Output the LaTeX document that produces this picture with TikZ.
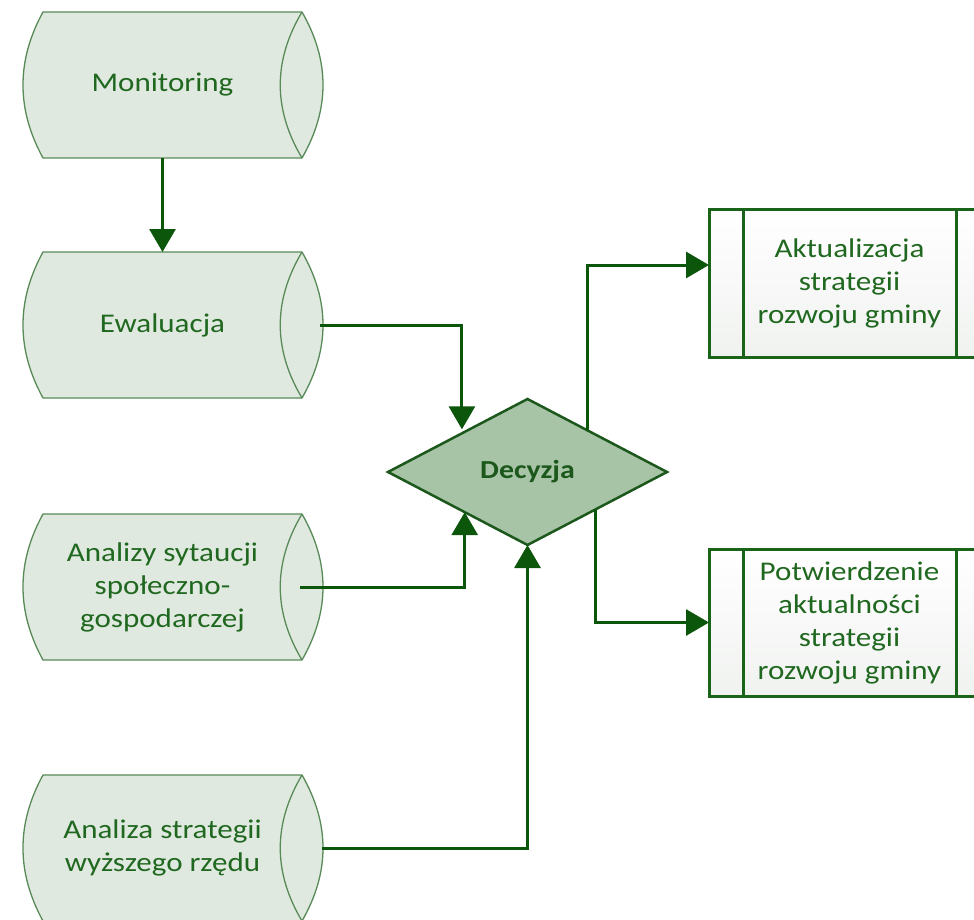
\documentclass[tikz,border=0pt]{standalone}
\usepackage{fontspec}
\setmainfont[FakeStretch=1.15]{Carlito}
\usetikzlibrary{arrows.meta,calc,shapes.geometric}
\pgfdeclarelayer{background}
\pgfsetlayers{background,main}
\definecolor{cylfill}{RGB}{224,233,223}
\definecolor{cylline}{RGB}{88,138,88}
\definecolor{txtgreen}{RGB}{32,104,32}
\definecolor{decfill}{RGB}{168,196,166}
\definecolor{decline}{RGB}{28,88,28}
\definecolor{procline}{RGB}{26,100,26}
\definecolor{procbot}{RGB}{240,242,240}
\definecolor{arrowc}{RGB}{12,86,12}
\tikzset{
  store/.style={minimum width=279pt, minimum height=146pt, inner sep=0pt, outer sep=0pt,
    align=center, text=txtgreen, font=\fontsize{27}{33}\selectfont},
  decision/.style={diamond, draw=decline, line width=2.5pt, fill=decfill,
    minimum width=279pt, minimum height=146pt, inner sep=0pt, outer sep=0pt,
    text=decline, font=\bfseries\fontsize{26}{30}\selectfont},
  proc/.style={draw=procline, line width=3pt, top color=white, bottom color=procbot,
    minimum width=281pt, minimum height=147pt, inner sep=0pt, outer sep=0pt,
    align=center, text=txtgreen, font=\fontsize{27}{33}\selectfont},
  procbar/.style={draw=procline, line width=3pt},
  conn/.style={draw=arrowc, line width=3pt, -{Triangle[width=26pt,length=23pt]}},
  cylbody/.style={draw=cylline, line width=1.3pt, fill=cylfill},
  cylcap/.style={draw=cylline, line width=1.3pt}
}
\newcommand\drawstore[1]{%
  \filldraw[cylbody] ([xshift=20pt]#1.north west) .. controls +(-26.7,48.7) and +(-26.7,-48.7) .. ([xshift=20pt]#1.south west)
    -- (#1.south east) .. controls +(28,-48.7) and +(28,48.7) .. (#1.north east) -- cycle;
  \draw[cylcap] (#1.north east) .. controls +(-29,48.7) and +(-29,-48.7) .. (#1.south east);
}
\begin{document}
\begin{tikzpicture}[x=1pt,y=-1pt]
\useasboundingbox (0,0) rectangle (974,920);
\clip (0,0) rectangle (974,920);

\node[store] (mon) at (162.5,85) {Monitoring};
\node[store] (ewa) at (162.5,325) {Ewaluacja};
\node[store] (ana) at (162.5,587) {Analizy sytaucji\\społeczno-\\gospodarczej};
\node[store] (ast) at (162.5,848) {Analiza strategii\\wyższego rzędu};

\begin{pgfonlayer}{background}
  \drawstore{mon}
  \drawstore{ewa}
  \drawstore{ana}
  \drawstore{ast}
\end{pgfonlayer}

\node[decision] (dec) at (527.5,472) {Decyzja};

\node[proc] (akt) at (849.5,283.5) {Aktualizacja\\strategii\\rozwoju gminy};
\node[proc] (pot) at (849.5,622.5) {Potwierdzenie\\aktualności\\strategii\\rozwoju gminy};
\draw[procbar] ([xshift=34pt]akt.north west) -- ([xshift=34pt]akt.south west);
\draw[procbar] ([xshift=-34pt]akt.north east) -- ([xshift=-34pt]akt.south east);
\draw[procbar] ([xshift=34pt]pot.north west) -- ([xshift=34pt]pot.south west);
\draw[procbar] ([xshift=-34pt]pot.north east) -- ([xshift=-34pt]pot.south east);

\draw[conn] (mon.south) -- (ewa.north);
\draw[conn, shorten >=4pt] ([xshift=18pt]ewa.east) -| ($(dec.west)!0.53!(dec.north)$);
\draw[conn] ([xshift=-2pt]ana.east) -| ($(dec.west)!0.55!(dec.south)$);
\draw[conn] ([xshift=20pt]ast.east) -| (dec.south);
\draw[conn] ($(dec.north)!0.427!(dec.east)$) |- ([yshift=18.5pt]akt.west);
\draw[conn] ($(dec.south)!0.49!(dec.east)$) |- (pot.west);
\end{tikzpicture}
\end{document}
